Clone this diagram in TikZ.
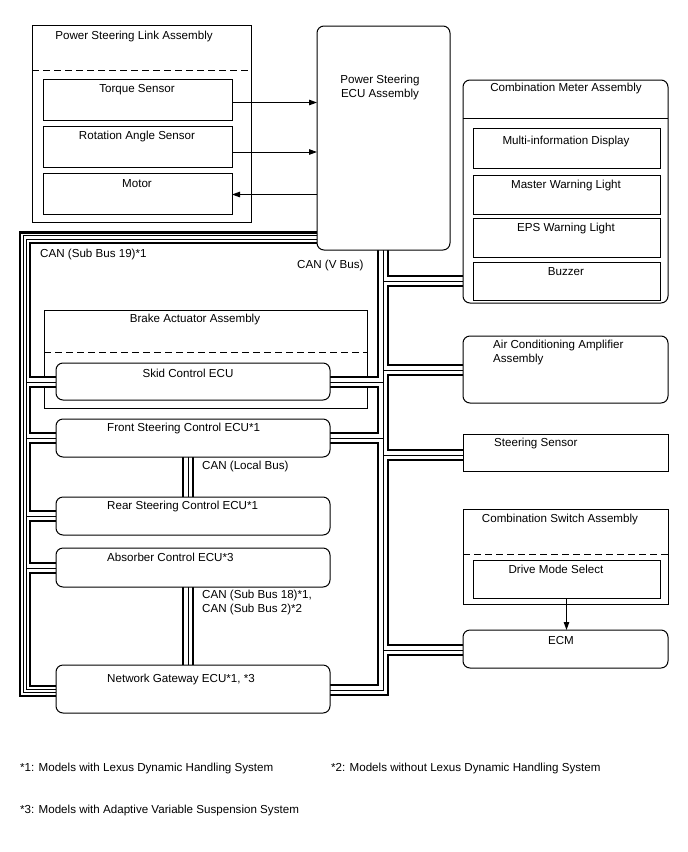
\documentclass[tikz,border=0pt]{standalone}
\usepackage{fontspec}
\setmainfont{Liberation Sans}
\usetikzlibrary{arrows.meta}
\begin{document}
\begin{tikzpicture}[x=1pt,y=-1pt,
  font=\fontsize{11.6}{14}\selectfont,
  box/.style={draw, line width=1pt, fill=white, inner sep=0pt, outer sep=0pt, anchor=north west},
  rbox/.style={box, rounded corners=7pt},
  obox/.style={draw, line width=1pt, inner sep=0pt, outer sep=0pt, anchor=north west},
  lbl/.style={anchor=west, inner sep=0pt},
  ctr/.style={anchor=center, inner sep=0pt},
  arr/.style={line width=1pt, -{Triangle[length=8pt,width=5.5pt]}},
  dsh/.style={line width=1pt, dash pattern=on 7pt off 4pt},
]
\useasboundingbox (0,0) rectangle (688,852);
\fill[white] (0,0) rectangle (688,852);

% container drawn under the buses
\node[obox, minimum width=323pt, minimum height=98pt] (bra) at (44,310) {};
\draw[dsh] (bra.west |- 0,352) -- (bra.east |- 0,352);

% ---- CAN bus network (layered) ----
\newcommand\busnet[1]{%
  \draw[#1] (383,250) -- (383,690) -- (330,690);
  \draw[#1] (383,281) -- (463,281);
  \draw[#1] (383,370) -- (463,370);
  \draw[#1] (383,455) -- (463,455);
  \draw[#1] (383,650) -- (463,650);
  \draw[#1] (383,382) -- (330,382);
  \draw[#1] (383,438) -- (330,438);
  \draw[#1] (26.8,382) -- (56,382);
  \draw[#1] (26.8,438) -- (56,438);
  \draw[#1] (26.8,516) -- (56,516);
  \draw[#1] (26.8,568) -- (56,568);
  \draw[#1] (188,457) -- (188,497);
  \draw[#1] (188,587) -- (188,665);
}
\busnet{line width=12.6pt, black, line join=miter}
\draw[line width=12.6pt, black, line join=miter] (318,237.5) -- (25,237.5) -- (25,691) -- (56,691);
\busnet{line width=8pt, white, line join=miter}
\draw[line width=8pt, white, line join=miter] (318,237.5) -- (25,237.5) -- (25,691) -- (56,691);
\busnet{line width=1pt, black, line join=miter}
\draw[line width=1pt, line join=miter] (318,235.7) -- (23.2,235.7) -- (23.2,692.8) -- (56,692.8);
\draw[line width=1pt, line join=miter] (318,239.3) -- (26.8,239.3) -- (26.8,689.2) -- (56,689.2);

% ---- Power steering link assembly ----
\node[obox, minimum width=219pt, minimum height=197pt] (link) at (32,25) {};
\draw[dsh] (link.west |- 0,70) -- (link.east |- 0,70);
\node[box, minimum width=189pt, minimum height=41pt] (tq) at (43,79) {};
\node[box, minimum width=189pt, minimum height=41pt] (ra) at (43,126) {};
\node[box, minimum width=189pt, minimum height=41pt] (mot) at (43,173) {};
\node[ctr] (tlink) at (134,36) {Power Steering Link Assembly};
\node[ctr] (ttq) at (137,90) {Torque Sensor};
\node[ctr] (tra) at (137,136) {Rotation Angle Sensor};
\node[ctr] (tmot) at (137,184) {Motor};

% ---- Power steering ECU ----
\node[rbox, minimum width=133pt, minimum height=224pt] (ecu) at (317,26) {};
\node[ctr, align=center] (tecu) at (380,87) {Power Steering\\ECU Assembly};

\draw[arr] ([yshift=-3pt]tq.east) -- ([yshift=-3pt]tq.east -| ecu.west);
\draw[arr] ([yshift=-5.5pt]ra.east) -- ([yshift=-5.5pt]ra.east -| ecu.west);
\draw[arr] ([yshift=-1pt]mot.east -| ecu.west) -- ([yshift=-1pt]mot.east);

% ---- Combination meter ----
\node[rbox, minimum width=205pt, minimum height=223pt] (cm) at (463,80) {};
\draw[line width=1pt] (cm.west |- 0,118) -- (cm.east |- 0,118);
\node[box, minimum width=187pt, minimum height=40pt] (mid) at (473,128) {};
\node[box, minimum width=187pt, minimum height=39pt] (mwl) at (473,175) {};
\node[box, minimum width=187pt, minimum height=39pt] (eps) at (473,218) {};
\node[box, minimum width=187pt, minimum height=38pt] (buz) at (473,262) {};
\node[ctr] (tcm) at (566,88) {Combination Meter Assembly};
\node[ctr] (tmid) at (566,141) {Multi-information Display};
\node[ctr] (tmwl) at (566,185) {Master Warning Light};
\node[ctr] (teps) at (566,228) {EPS Warning Light};
\node[ctr] (tbuz) at (566,272) {Buzzer};

% ---- Right column ----
\node[rbox, minimum width=205pt, minimum height=67pt] (ac) at (463,336) {};
\node[lbl, align=left, anchor=north west] (tac) at (493,340) {Air Conditioning Amplifier\\Assembly};
\node[box, minimum width=205pt, minimum height=37pt] (ss) at (463,434) {};
\node[lbl] (tss) at (494,443) {Steering Sensor};
\node[box, minimum width=205pt, minimum height=95pt] (csw) at (463,509) {};
\draw[dsh] (csw.west |- 0,554) -- (csw.east |- 0,554);
\node[box, minimum width=187pt, minimum height=38pt] (dms) at (473,560) {};
\node[ctr] (tcsw) at (560,519) {Combination Switch Assembly};
\node[ctr] (tdms) at (556,569) {Drive Mode Select};
\node[rbox, minimum width=205pt, minimum height=38pt] (ecm) at (463,630) {};
\node[ctr] (tecm) at (561,640) {ECM};
\draw[arr] (dms.south) -- (dms.south |- ecm.north);

% ---- Left column ECUs ----
\node[ctr] (tbra) at (195,319) {Brake Actuator Assembly};
\node[rbox, minimum width=274pt, minimum height=37pt] (skid) at (56,363) {};
\node[ctr] (tskid) at (188,373) {Skid Control ECU};
\node[rbox, minimum width=274pt, minimum height=38pt] (fsc) at (56,419) {};
\node[lbl] (tfsc) at (107,428) {Front Steering Control ECU*1};
\node[rbox, minimum width=274pt, minimum height=38pt] (rsc) at (56,497) {};
\node[lbl] (trsc) at (107,506) {Rear Steering Control ECU*1};
\node[rbox, minimum width=274pt, minimum height=39pt] (abs) at (56,548) {};
\node[lbl] (tabs) at (107,557) {Absorber Control ECU*3};
\node[rbox, minimum width=274pt, minimum height=48pt] (gw) at (56,665) {};
\node[lbl] (tgw) at (107,679) {Network Gateway ECU*1, *3};

% ---- bus labels ----
\node[lbl] (lsb19) at (40,254) {CAN (Sub Bus 19)*1};
\node[lbl] (lvb) at (297,265) {CAN (V Bus)};
\node[lbl] (llb) at (202,466) {CAN (Local Bus)};
\node[lbl, align=left, anchor=north west] (lsb18) at (202,590) {CAN (Sub Bus 18)*1,\\CAN (Sub Bus 2)*2};

% ---- footnotes ----
\node[lbl] (f1) at (20,768) {*1: Models with Lexus Dynamic Handling System};
\node[lbl] (f2) at (331,768) {*2: Models without Lexus Dynamic Handling System};
\node[lbl] (f3) at (20,810) {*3: Models with Adaptive Variable Suspension System};
\end{tikzpicture}
\end{document}
